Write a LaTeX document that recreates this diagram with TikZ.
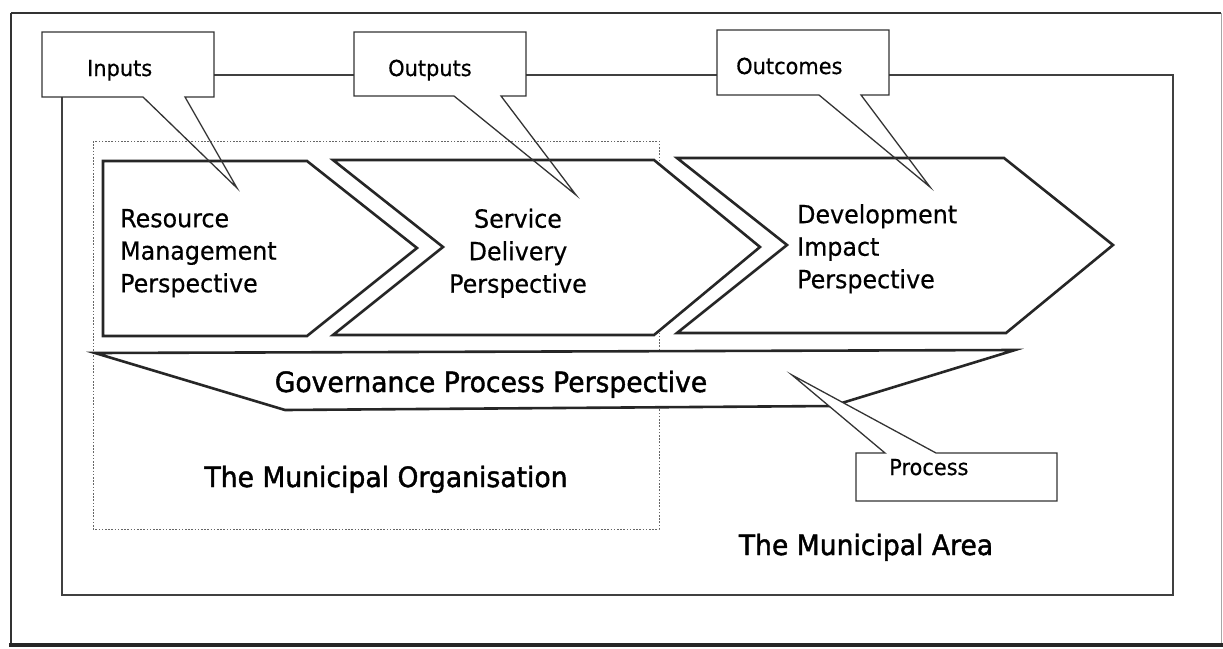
\documentclass[tikz,border=0pt]{standalone}
\usepackage{fontspec}
\setmainfont{DejaVu Sans}[FakeStretch=0.95,FakeBold=0.5]
\newfontfamily\heavyfont{DejaVu Sans}[FakeStretch=0.95,FakeBold=1.5]
\tikzset{
  frameline/.style={draw=black!75, line width=1.5pt},
  outerline/.style={draw=black!80, line width=2pt},
  orgbox/.style={draw=black!60, line width=0.9pt, dash pattern=on 1.6pt off 1.6pt},
  chev/.style={draw=black!85, fill=white, line width=2.6pt, line join=miter},
  govshape/.style={draw=black!85, fill=white, line width=2.6pt, line join=miter},
  bubble/.style={draw=black!80, line width=1.3pt, line join=miter},
  bubblefill/.style={fill=white},
  boxlabel/.style={font=\fontsize{22}{26}\selectfont, inner sep=0pt, anchor=base west},
  chevtext/.style={font=\fontsize{25}{32.5}\selectfont, inner sep=0pt},
  bigtext/.style={font=\heavyfont\fontsize{28}{32}\selectfont, inner sep=0pt, anchor=base},
}
\begin{document}
\begin{tikzpicture}[x=1pt,y=-1pt]
\useasboundingbox (0,0) rectangle (1223,648);
% outer frame
\draw[outerline] (11,13) -- (1221,13);
\draw[outerline] (11,13) -- (11,645);
\draw[draw=black!35, line width=1pt] (1221,13) -- (1221,645);
\draw[draw=black!85, line width=3.5pt] (9,645) -- (1223,645);
% municipal area frame
\draw[frameline] (62,75) rectangle (1173,595);
% municipal organisation (dashed)
\draw[orgbox] (93,141) rectangle (659,529);
% chevrons
\draw[chev] (103,161) -- (307,161) -- (417,248) -- (307,336) -- (103,336) -- cycle;
\draw[chev] (333,160) -- (654,160) -- (760,247) -- (654,335) -- (333,335) -- (443,247) -- cycle;
\draw[chev] (677,158) -- (1004,158) -- (1113,245) -- (1006,333) -- (677,333) -- (787,245) -- cycle;
% governance shape
\draw[govshape] (95,353) -- (1015,350) -- (832,406) -- (285,410) -- cycle;
% callouts
\fill[bubblefill] (42,32) rectangle (214,97);
\draw[bubble] (185,97) -- (214,97) -- (214,32) -- (42,32) -- (42,97) -- (143,97) -- (237,188) -- cycle;
\fill[bubblefill] (354,32) rectangle (526,96);
\draw[bubble] (501,96) -- (526,96) -- (526,32) -- (354,32) -- (354,96) -- (454,96) -- (576,195) -- cycle;
\fill[bubblefill] (717,30) rectangle (889,95);
\draw[bubble] (861,95) -- (889,95) -- (889,30) -- (717,30) -- (717,95) -- (819,95) -- (930,187) -- cycle;
\draw[bubble, fill=white] (856,453) -- (885,453) -- (792,375) -- (936,453) -- (1057,453) -- (1057,501) -- (856,501) -- cycle;
% labels
\node[boxlabel] (inputs) at (87,76) {Inputs};
\node[boxlabel] (outputs) at (388,76) {Outputs};
\node[boxlabel] (outcomes) at (736,74) {Outcomes};
\node[boxlabel] (process) at (889,475) {Process};
\node[chevtext, align=left, anchor=north west] (rmp) at (120,208.8) {Resource\\Management\\Perspective};
\node[chevtext, align=center, anchor=north] (sdp) at (518,208.5) {Service\\Delivery\\Perspective};
\node[chevtext, align=left, anchor=north west] (dip) at (797,204) {Development\\Impact\\Perspective};
\node[bigtext] (gpp) at (491,392) {Governance Process Perspective};
\node[bigtext] (org) at (386,487) {The Municipal Organisation};
\node[bigtext] (area) at (866,555) {The Municipal Area};
\end{tikzpicture}
\end{document}
